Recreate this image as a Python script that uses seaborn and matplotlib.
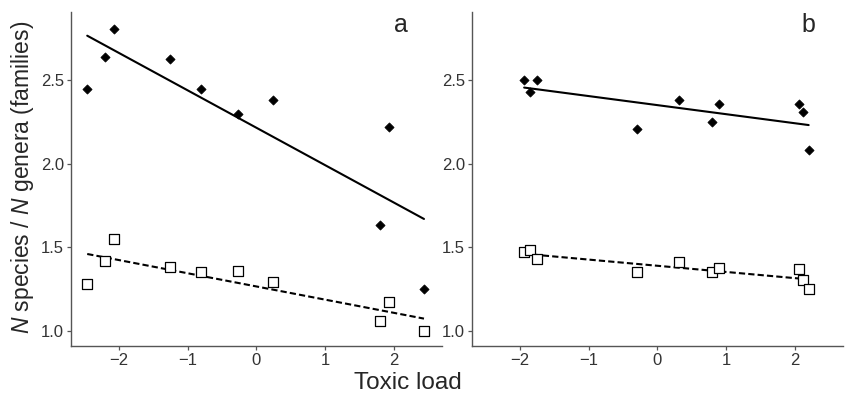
import numpy as np
import pandas as pd
import matplotlib
matplotlib.use('Agg')
import matplotlib.pyplot as plt
import seaborn as sns

# panel a
a_x = [-2.46, -2.20, -2.07, -1.26, -0.81, -0.27, 0.245, 1.93, 1.80, 2.44]
a_species = [2.45, 2.64, 2.81, 2.63, 2.45, 2.30, 2.38, 2.22, 1.63, 1.25]
a_genera = [1.28, 1.42, 1.55, 1.38, 1.35, 1.36, 1.29, 1.17, 1.055, 1.00]

# panel b
b_x = [-1.94, -1.86, -1.75, -0.30, 0.32, 0.79, 0.89, 2.06, 2.12, 2.20]
b_species = [2.50, 2.43, 2.50, 2.21, 2.38, 2.25, 2.36, 2.36, 2.31, 2.08]
b_genera = [1.47, 1.48, 1.43, 1.35, 1.41, 1.35, 1.375, 1.37, 1.305, 1.25]

panel_labels = ['a', 'b']
x_ticks = [-2, -1, 0, 1, 2]
y_ticks = [1.0, 1.5, 2.0, 2.5]

sns.set_style('ticks')
plt.rcParams['font.family'] = ['Liberation Sans', 'DejaVu Sans']
plt.rcParams['mathtext.fontset'] = 'custom'
plt.rcParams['mathtext.it'] = 'Liberation Sans:italic'
plt.rcParams['mathtext.rm'] = 'Liberation Sans'

axis_col = '#555555'

fig, axes = plt.subplots(1, 2, figsize=(8.46, 3.96), dpi=100)
fig.subplots_adjust(left=0.0836, right=0.9965, top=0.970, bottom=0.127, wspace=0.081)

panels = [(a_x, a_species, a_genera), (b_x, b_species, b_genera)]
for ax, (xs, sp, ge), lab in zip(axes, panels, panel_labels):
    df = pd.DataFrame({'x': xs, 'sp': sp, 'ge': ge})
    sns.regplot(data=df, x='x', y='sp', ax=ax, scatter=False, ci=None,
                color='black', line_kws={'lw': 1.5})
    sns.regplot(data=df, x='x', y='ge', ax=ax, scatter=False, ci=None,
                color='black', line_kws={'lw': 1.5, 'ls': (0, (3, 1.5))})
    sns.scatterplot(data=df, x='x', y='sp', ax=ax, marker='D', s=22,
                    color='black', edgecolor='black', linewidth=0.5, zorder=3)
    sns.scatterplot(data=df, x='x', y='ge', ax=ax, marker='s', s=50,
                    facecolor='white', edgecolor='black', linewidth=0.9, zorder=3)
    ax.set_xlim(-2.7, 2.7)
    ax.set_ylim(0.909, 2.911)
    ax.set_xticks(x_ticks)
    ax.set_xticklabels(['\u22122', '\u22121', '0', '1', '2'])
    ax.set_yticks(y_ticks)
    ax.set_yticklabels([f'{v:.1f}' for v in y_ticks])
    ax.set_xlabel('')
    ax.set_ylabel('')
    sns.despine(ax=ax)
    for s in ['left', 'bottom']:
        ax.spines[s].set_color(axis_col)
        ax.spines[s].set_linewidth(1.0)
    ax.tick_params(axis='both', colors=axis_col, labelcolor='#333333',
                   labelsize=12, length=3, width=0.9, pad=2)
    ax.text(0.89 if lab == 'a' else 0.906, 0.961, lab, transform=ax.transAxes,
            ha='center', va='center', fontsize=18)

fig.text(408 / 846, 1 - 383 / 396, 'Toxic load', ha='center', va='center', fontsize=17.5)
fig.text(23 / 846, 1 - 177 / 396, r'$\it{N}$ species / $\it{N}$ genera (families)',
         rotation=90, ha='center', va='center', fontsize=16.5)

fig.savefig('out.png', dpi=100)
